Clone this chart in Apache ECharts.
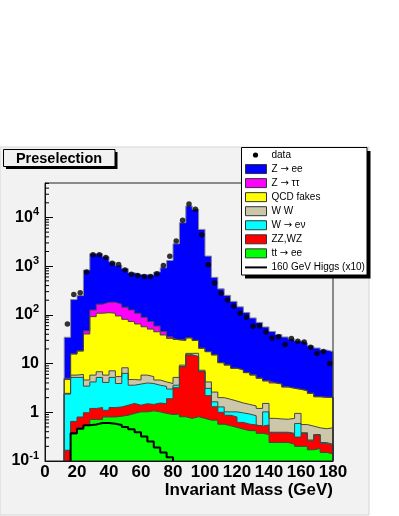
<!DOCTYPE html>
<html>
<head>
<meta charset="utf-8">
<title>Preselection - Invariant Mass</title>
<script src="https://cdn.jsdelivr.net/npm/echarts@6.0.0/dist/echarts.min.js"></script>
<style>
  html, body { margin: 0; padding: 0; background: #fff; }
  #chart { width: 399px; height: 516px; }
</style>
</head>
<body>
<div id="chart"></div>
<script>
// 4 GeV bins, 12 -> 180 GeV
const binEdges = [12, 16, 20, 24, 28, 32, 36, 40, 44, 48, 52, 56, 60, 64, 68, 72, 76, 80, 84, 88, 92,
  96, 100, 104, 108, 112, 116, 120, 124, 128, 132, 136, 140, 144, 148, 152, 156, 160, 164, 168, 172, 176, 180];

// stacked totals as drawn (each layer = sum of itself and everything below it)
const zeeStack = [34.7, 206, 249, 830, 1800, 1800, 1560, 1213, 1033, 883, 731, 675,
  665, 655, 755, 927, 1309, 2890, 7816, 17260, 14690, 5690, 1612, 590,
  342, 252, 189, 146, 112, 86.5, 70, 56.5, 45.7, 39.6, 35.2, 32, 29.1, 26.5, 23, 20.9, 19, 17.7];
const ztautauStack = [5.0, 15.9, 18.3, 47, 126, 166, 182, 182, 166, 144, 126, 108,
  89, 73, 59, 45.7, 35.5, 31.3, 30.5, 34, 30.2, 20.9, 17.7, 15.2,
  10.5, 9.4, 8.1, 7.5, 6.6, 5.9, 5.05, 4.45, 4.05, 3.85, 3.35, 3.15, 3.0, 2.8, 2.48, 2.1, 2.05, 2.05];
const qcdStack = [4.7, 15.7, 18.1, 40.5, 92, 108, 111, 108, 95, 81, 73, 65,
  57, 51, 45, 38.6, 33, 30.5, 30, 33.6, 29.8, 20.6, 17.5, 15,
  10.4, 9.3, 8.0, 7.4, 6.5, 5.8, 5.0, 4.4, 4.0, 3.8, 3.3, 3.1, 2.95, 2.76, 2.44, 2.08, 2.02, 2.02];
const wwStack = [2.45, 5.8, 6.0, 4.6, 5.8, 6.8, 5.8, 7.1, 5.4, 8.2, 4.7, 4.6,
  5.8, 5.4, 4.6, 4.2, 3.9, 5.2, 9.3, 16.2, 16.3, 7.3, 4.2, 2.6,
  2.0, 1.85, 1.7, 1.55, 1.45, 1.35, 1.2, 1.52, 0.75, 0.73, 0.72, 0.75, 0.95, 0.56, 0.52, 0.48, 0.46, 0.48];
const wenuStack = [2.36, 5.2, 5.2, 3.45, 4.2, 5.2, 4.1, 5.2, 3.9, 6.3, 3.6, 3.8,
  4.0, 3.9, 3.6, 3.4, 3.0, 3.6, 8.7, 15.1, 13.9, 6.9, 3.1, 1.64,
  1.29, 1.02, 1.02, 0.97, 0.92, 0.85, 0.53, 1.02, 0.39, 0.39, 0.39, 0.37, 0.59, 0.38, 0.27, 0.35, 0.24, 0.22];
const zzwzStack = [0.166, 0.65, 0.80, 0.98, 1.2, 1.25, 1.1, 1.25, 1.29, 1.40, 1.52, 1.40,
  1.50, 1.45, 1.55, 1.50, 1.9, 3.2, 8.6, 15, 13.8, 6.8, 2.2, 1.3,
  1.0, 0.87, 0.80, 0.62, 0.57, 0.55, 0.52, 0.55, 0.38, 0.38, 0.38, 0.36, 0.31, 0.37, 0.26, 0.34, 0.23, 0.21];
const ttStack = [0, 0.36, 0.49, 0.54, 0.71, 0.71, 0.80, 0.80, 0.83, 0.87, 0.95, 1.02,
  1.02, 1.07, 1.02, 0.95, 0.90, 0.92, 0.81, 0.75, 0.81, 0.75, 0.69, 0.69,
  0.57, 0.53, 0.49, 0.45, 0.42, 0.42, 0.37, 0.35, 0.24, 0.24, 0.24, 0.22, 0.20, 0.20, 0.17, 0.18, 0.15, 0.14];
const dataCounts = [65, 261, 283, 755, 1715, 1715, 1510, 1146, 1083, 830, 680, 643,
  614, 614, 703, 1028, 1596, 3283, 8716, 18790, 14830, 4425, 1067, 449,
  277, 203, 153, 108, 89.5, 58.4, 59.3, 44.6, 33.6, 35.7, 24.7, 32.7, 28.8, 27.8, 21.6, 16.2, 17.7, 10.1];
// Higgs x10, starts at the 16 GeV edge, below 0.1 after 80 GeV
const higgsStart = 1;
const higgs = [0.37, 0.46, 0.54, 0.56, 0.60, 0.60, 0.58, 0.55, 0.50, 0.45, 0.39, 0.32, 0.25, 0.19, 0.15, 0.12];

// {a|...} marks the arrow, drawn in DejaVu so it keeps its full size
const legendNames = ['data', 'Z {a|\u2192} ee', 'Z {a|\u2192} \u03c4\u03c4', 'QCD fakes', 'W W',
  'W {a|\u2192} e\u03bd', 'ZZ,WZ', 'tt {a|\u2192} ee', '160 GeV Higgs (x10)'];
const fillColors = ['#0000ff', '#ff00ff', '#ffff00', '#cdc7aa', '#00ffff', '#ff0000', '#00ff00'];
const minorMantissas = [2, 3, 4, 5, 6, 7, 8, 9];
const decades = [0.1, 1, 10, 100, 1000, 10000];

const Y_MIN = 0.1, Y_MAX = 51000;
const FONT = '"Liberation Sans", Arial, Helvetica, sans-serif';

// histogram outline as a list of step points, closed down to the axis floor
function stepPoints(vals, first) {
  first = first || 0;
  const a = vals.findIndex(v => v > 0);
  let b = vals.length - 1;
  while (b >= 0 && !(vals[b] > 0)) b--;
  const pts = [[binEdges[first + a], Y_MIN]];
  for (let i = a; i <= b; i++) pts.push([binEdges[first + i], vals[i]]);
  pts.push([binEdges[first + b + 1], vals[b]]);
  pts.push([binEdges[first + b + 1], Y_MIN]);
  return pts;
}

const stacks = [zeeStack, ztautauStack, qcdStack, wwStack, wenuStack, zzwzStack, ttStack];

const series = stacks.map((vals, k) => ({
  type: 'line',
  data: stepPoints(vals),
  step: 'end',
  symbol: 'none',
  silent: true,
  lineStyle: { color: k === 0 ? '#8a8a8a' : '#444', width: 1 },
  areaStyle: { color: fillColors[k], opacity: 1, origin: 'start' },
  z: 2
}));

series.push({
  type: 'line',
  data: stepPoints(higgs, higgsStart),
  step: 'end',
  symbol: 'none',
  silent: true,
  lineStyle: { color: '#000', width: 2 },
  z: 4
});

series.push({
  type: 'scatter',
  data: dataCounts.map((v, i) => [(binEdges[i] + binEdges[i + 1]) / 2, v]),
  symbolSize: 5.5,
  itemStyle: { color: '#000', borderWidth: 0 },
  silent: true,
  z: 5
});

// minor ticks at 2..9 x 10^n, like ROOT draws them
const minorTicks = [];
decades.forEach(d => minorMantissas.forEach(m => { if (m * d < Y_MAX) minorTicks.push([0, m * d]); }));
series.push({
  type: 'custom',
  data: minorTicks,
  silent: true,
  z: 11,
  renderItem: (params, api) => {
    const p = api.coord([0, api.value(1)]);
    return {
      type: 'line',
      shape: { x1: p[0], y1: p[1], x2: p[0] + 4, y2: p[1] },
      style: { stroke: '#000', lineWidth: 1 }
    };
  }
});

// legend box drawn like the ROOT TLegend
const legendItems = [];
const LX = 241.5, LY = 147.5, LW = 125.5, LH = 127.5;
legendItems.push({ type: 'rect', z: 100, silent: true, shape: { x: LX + 3.5, y: LY + 3.5, width: LW, height: LH }, style: { fill: '#000' } });
legendItems.push({ type: 'rect', z: 101, silent: true, shape: { x: LX, y: LY, width: LW, height: LH }, style: { fill: '#fff', stroke: '#000', lineWidth: 1 } });
legendNames.forEach((name, i) => {
  const y = 155 + i * 14.05;
  if (i === 0) {
    legendItems.push({ type: 'circle', z: 102, silent: true, shape: { cx: 255.5, cy: y, r: 2.6 }, style: { fill: '#000' } });
  } else if (i === 8) {
    legendItems.push({ type: 'line', z: 102, silent: true, shape: { x1: 245, y1: y, x2: 267, y2: y }, style: { stroke: '#000', lineWidth: 2 } });
  } else {
    legendItems.push({ type: 'rect', z: 102, silent: true, shape: { x: 245.5, y: y - 4.5, width: 21, height: 9 }, style: { fill: fillColors[i - 1], stroke: '#333', lineWidth: 1 } });
  }
  legendItems.push({
    type: 'text', z: 102, silent: true,
    style: { text: name, x: 271.5, y: y, font: '10px ' + FONT, fill: '#000',
      textAlign: 'left', textVerticalAlign: 'middle', align: 'left', verticalAlign: 'middle',
      rich: { a: { fontFamily: '"DejaVu Sans"', fontSize: 10, fill: '#000', color: '#000' } } }
  });
});

const chart = echarts.init(document.getElementById('chart'));
chart.setOption({
  animation: false,
  backgroundColor: '#fff',
  grid: {
    left: 45, right: 66, top: 183, bottom: 55,
    show: true, backgroundColor: 'transparent', borderColor: '#222', borderWidth: 1, z: 10
  },
  xAxis: {
    type: 'value', min: 0, max: 180, interval: 20,
    axisLine: { show: true, lineStyle: { color: '#000' } },
    axisTick: { show: false },
    splitLine: { show: false },
    axisLabel: { fontFamily: FONT, fontWeight: 'bold', fontSize: 17, color: '#000', margin: 3 }
  },
  yAxis: {
    type: 'log', logBase: 10, min: Y_MIN, max: Y_MAX,
    axisLine: { show: true, lineStyle: { color: '#000' } },
    axisTick: { show: true, inside: true, length: 8, lineStyle: { color: '#000' } },
    splitLine: { show: false },
    axisLabel: {
      showMaxLabel: false,
      margin: 6,
      formatter: v => {
        const e = Math.round(Math.log10(v));
        if (e === 0) return '{b|1}';
        if (e === 1) return '{b|10}';
        return '{b|10}{s|' + e + '}';
      },
      rich: {
        b: { fontFamily: FONT, fontWeight: 'bold', fontSize: 16, color: '#000', lineHeight: 22 },
        s: { fontFamily: FONT, fontWeight: 'bold', fontSize: 11, color: '#000', lineHeight: 12, verticalAlign: 'top' }
      }
    }
  },
  graphic: [
    // pad background
    { type: 'rect', z: -5, silent: true, shape: { x: 0, y: 147, width: 369, height: 368 }, style: { fill: '#f2f2f2', stroke: '#d6d6d6', lineWidth: 1 } },
    // x axis title
    { type: 'text', z: 50, silent: true,
      style: { text: 'Invariant Mass (GeV)', x: 333, y: 490, font: 'bold 17px ' + FONT, fill: '#000',
        textAlign: 'right', textVerticalAlign: 'middle', align: 'right', verticalAlign: 'middle' } },
    // title box
    { type: 'rect', z: 100, silent: true, shape: { x: 6, y: 152, width: 111.5, height: 17 }, style: { fill: '#000' } },
    { type: 'rect', z: 101, silent: true, shape: { x: 3.5, y: 149.5, width: 111.5, height: 17 }, style: { fill: '#f2f2f2', stroke: '#000', lineWidth: 1 } },
    { type: 'text', z: 102, silent: true,
      style: { text: 'Preselection', x: 59, y: 158.5, font: 'bold 14.5px ' + FONT, fill: '#000',
        textAlign: 'center', textVerticalAlign: 'middle', align: 'center', verticalAlign: 'middle' } }
  ].concat(legendItems),
  series: series
});
</script>
</body>
</html>
